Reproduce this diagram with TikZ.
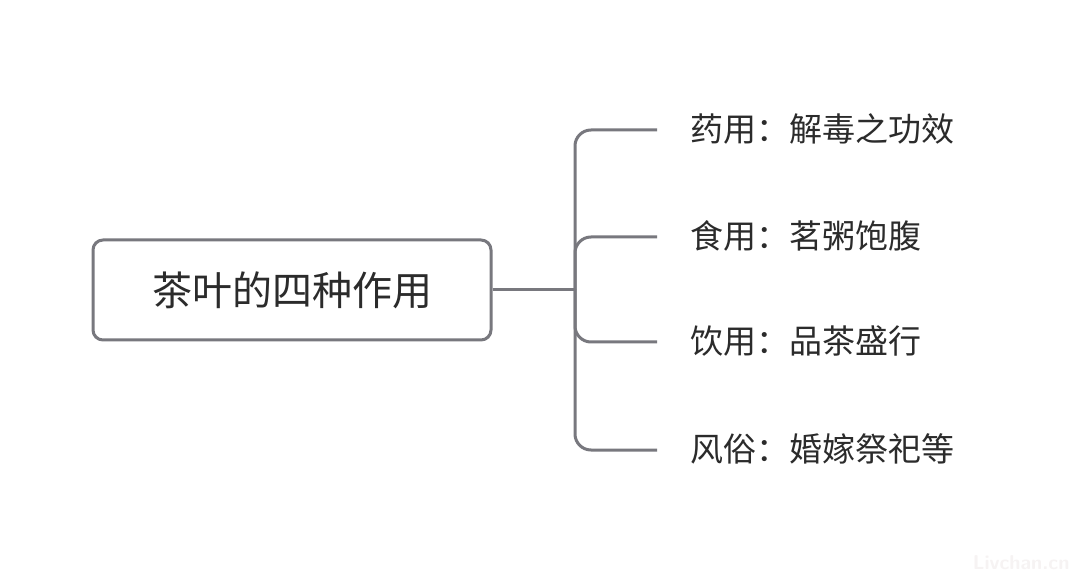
\documentclass[tikz,border=0pt]{standalone}
\usepackage{fontspec}
\setmainfont{Noto Sans CJK SC}
\begin{document}
\begin{tikzpicture}[x=1pt,y=-1pt,
  conn/.style={draw=linegray,line width=3pt,rounded corners=16pt},
  rootbox/.style={draw=linegray,line width=3pt,rounded corners=10pt,minimum width=398pt,minimum height=100pt,inner sep=0pt,font=\fontsize{40}{44}\selectfont,text=textdark},
  leaf/.style={anchor=west,inner sep=0pt,font=\fontsize{33}{38}\selectfont,text=textdark}]
\definecolor{linegray}{HTML}{78787E}
\definecolor{textdark}{HTML}{2B2B2B}
\definecolor{wm}{HTML}{F6F3F3}
\useasboundingbox[fill=white] (0,0) rectangle (1080,580);
\node[rootbox] (root) at (292,290) {茶叶的四种作用};
\coordinate (hub) at (575,290);
\coordinate (e1) at (657,130);
\coordinate (e2) at (657,237);
\coordinate (e3) at (657,342);
\coordinate (e4) at (657,450);
\node[leaf] (l1) at (690,129) {药用：解毒之功效};
\node[leaf] (l2) at (690,236) {食用：茗粥饱腹};
\node[leaf] (l3) at (690,341) {饮用：品茶盛行};
\node[leaf] (l4) at (690,449) {风俗：婚嫁祭祀等};
\draw[linegray,line width=3pt] (root.east) -- (hub);
\draw[conn] (e1) -| (hub);
\draw[conn] (e2) -| (hub);
\draw[conn] (e3) -| (hub);
\draw[conn] (e4) -| (hub);
\node[anchor=east,text=wm,font=\sffamily\bfseries\fontsize{20}{22}\selectfont] (wmark) at (1073,563) {Livchan.cn};
\end{tikzpicture}
\end{document}
